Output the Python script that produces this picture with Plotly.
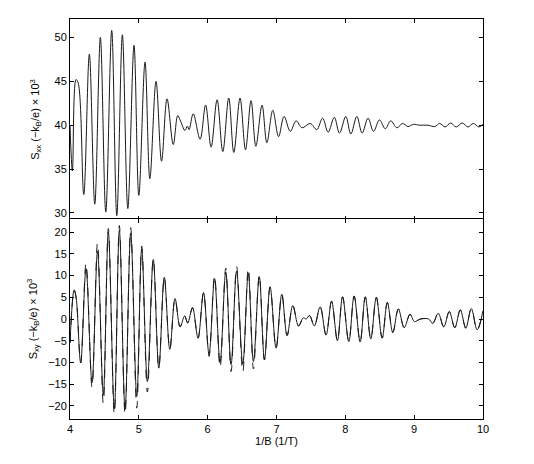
import plotly.graph_objects as go
from plotly.subplots import make_subplots

# ---- data (oscillation extrema) ----
sxx_x = [4.00, 4.035, 4.087, 4.12, 4.20, 4.281, 4.36, 4.441, 4.52, 4.606, 4.68, 4.761, 4.84, 4.930,
         5.00, 5.09, 5.16, 5.25, 5.33, 5.41, 5.50, 5.565, 5.60, 5.67, 5.705, 5.73, 5.79, 5.89, 5.97,
         6.05, 6.137, 6.22, 6.306, 6.38, 6.47, 6.55, 6.63, 6.70, 6.79, 6.86, 6.946, 7.03, 7.11, 7.20,
         7.285, 7.37, 7.49, 7.585, 7.67, 7.75, 7.84, 7.915, 8.007, 8.08, 8.167, 8.244, 8.33, 8.41,
         8.496, 8.58, 8.66, 8.75, 8.83, 8.91, 8.99, 9.08, 9.20, 9.30, 9.37, 9.45, 9.53, 9.61, 9.70,
         9.78, 9.86, 9.94, 10.0]
sxx_y = [40.0, 34.8, 45.2, 44.8, 32.1, 48.1, 31.0, 50.0, 30.1, 50.8, 29.7, 50.3, 30.5, 49.1,
         32.0, 47.2, 33.9, 45.0, 35.9, 43.0, 37.8, 41.1, 40.6, 39.4, 39.9, 39.5, 41.3, 38.4, 42.3,
         37.5, 42.9, 37.0, 43.1, 36.9, 43.1, 37.2, 42.8, 37.6, 42.3, 38.0, 41.7, 38.7, 41.0, 39.3,
         40.5, 39.7, 40.2, 39.5, 40.8, 39.2, 40.9, 39.1, 41.0, 39.0, 41.0, 39.1, 40.8, 39.3,
         40.6, 39.6, 40.5, 39.7, 40.2, 39.85, 40.1, 40.0, 40.0, 39.85, 40.2, 39.8, 40.25, 39.8, 40.25,
         39.8, 40.2, 39.8, 40.1]

sxy_x = [4.00, 4.06, 4.09, 4.155, 4.233, 4.32, 4.40, 4.484, 4.557, 4.644, 4.717, 4.80, 4.882, 4.97,
         5.042, 5.124, 5.21, 5.29, 5.37, 5.45, 5.526, 5.60, 5.665, 5.71, 5.78, 5.86, 5.94, 6.02,
         6.10, 6.18, 6.263, 6.34, 6.42, 6.51, 6.59, 6.665, 6.75, 6.825, 6.907, 6.994, 7.077, 7.154,
         7.237, 7.32, 7.39, 7.43, 7.48, 7.55, 7.634, 7.72, 7.80, 7.885, 7.96, 8.05, 8.128, 8.215,
         8.29, 8.37, 8.45, 8.535, 8.61, 8.69, 8.77, 8.855, 8.94, 9.004, 9.09, 9.21, 9.27, 9.35,
         9.43, 9.51, 9.59, 9.67, 9.75, 9.83, 9.915, 10.0]
sxy_y = [-5.5, 6.7, 4.8, -10.1, 11.6, -14.7, 15.6, -17.4, 20.0, -20.7, 20.4, -20.8, 19.8, -17.8,
         16.2, -14.4, 13.7, -11.3, 9.6, -7.0, 4.7, -1.8, 0.7, -0.9, 2.6, -4.4, 6.1, -8.1,
         9.3, -10.0, 10.8, -10.5, 11.0, -10.4, 10.5, -9.8, 9.7, -9.4, 7.4, -6.7, 5.7, -3.8,
         3.1, -1.6, 0.3, 0.0, 0.8, -1.6, 2.8, -3.7, 4.1, -5.0, 5.1, -5.2, 5.3, -5.3,
         5.1, -4.6, 5.0, -4.4, 3.8, -3.1, 2.3, -2.0, 1.1, -0.6, 0.0, 0.0, -1.0, 1.3,
         -1.8, 1.7, -2.0, 2.1, -2.1, 2.4, -2.5, 1.9]
# dashed companion curve (slightly larger extrema in places)
sxy_dash_y = [-5.5, 6.7, 4.8, -10.1, 12.9, -15.7, 17.6, -19.5, 20.8, -22.0, 21.5, -22.0, 21.0, -20.5,
              16.8, -16.8, 13.9, -11.3, 9.6, -7.0, 4.7, -1.8, 0.7, -0.9, 2.6, -4.4, 6.1, -8.6,
              10.0, -11.2, 11.7, -12.1, 12.1, -12.3, 11.8, -11.5, 10.2, -9.4, 7.4, -6.7, 5.7, -3.8,
              3.1, -1.6, 0.3, 0.0, 0.8, -1.6, 2.8, -3.7, 4.1, -5.0, 5.1, -5.2, 5.3, -5.3,
              5.1, -4.6, 5.0, -4.4, 3.8, -3.1, 2.3, -2.0, 1.1, -0.6, 0.0, 0.0, -1.0, 1.3,
              -1.8, 1.7, -2.0, 2.1, -2.1, 2.4, -2.5, 1.9]

x_ticks = [4, 5, 6, 7, 8, 9, 10]
sxx_ticks = [30, 35, 40, 45, 50]
sxy_ticks = [-20, -15, -10, -5, 0, 5, 10, 15, 20]

FONT = "Liberation Sans, Arial, Helvetica, sans-serif"

fig = make_subplots(rows=2, cols=1, shared_xaxes=True, vertical_spacing=0)

fig.add_trace(go.Scatter(x=sxx_x, y=sxx_y, mode="lines",
                         line=dict(color="#1a1a1a", width=1, shape="spline", smoothing=1.0),
                         showlegend=False, hoverinfo="skip"), row=1, col=1)
fig.add_trace(go.Scatter(x=sxy_x, y=sxy_dash_y, mode="lines",
                         line=dict(color="#1a1a1a", width=1, shape="spline", smoothing=1.0, dash="dash"),
                         showlegend=False, hoverinfo="skip"), row=2, col=1)
fig.add_trace(go.Scatter(x=sxy_x, y=sxy_y, mode="lines",
                         line=dict(color="#1a1a1a", width=1, shape="spline", smoothing=1.0),
                         showlegend=False, hoverinfo="skip"), row=2, col=1)

axis_common = dict(showline=True, linecolor="#000", linewidth=1, mirror="allticks",
                   ticks="inside", ticklen=4, tickcolor="#000", showgrid=False, zeroline=False,
                   tickfont=dict(family=FONT, size=11, color="#000"))

fig.update_xaxes(range=[4, 10], tickvals=x_ticks, **axis_common)
fig.update_xaxes(showticklabels=False, row=1, col=1)
fig.update_xaxes(title=dict(text="1/B (1/T)", font=dict(family=FONT, size=11, color="#000"), standoff=2),
                 row=2, col=1)

fig.update_yaxes(range=[29.2, 52.1], tickvals=sxx_ticks, row=1, col=1, **axis_common,
                 domain=[0.4975, 1.0],
                 title=dict(text="S<sub>xx</sub> (−k<sub>B</sub>/e) × 10<sup>3</sup>",
                            font=dict(family=FONT, size=11, color="#000"), standoff=12))
fig.update_yaxes(range=[-23, 23], tickvals=sxy_ticks, ticktext=[str(t).replace("-", "−") for t in sxy_ticks],
                 row=2, col=1, **axis_common, domain=[0.0, 0.5],
                 title=dict(text="S<sub>xy</sub> (−k<sub>B</sub>/e) × 10<sup>3</sup>",
                            font=dict(family=FONT, size=11, color="#000"), standoff=8))

fig.update_layout(width=526, height=456, margin=dict(l=62, r=51, t=11, b=45),
                  paper_bgcolor="white", plot_bgcolor="white", showlegend=False)

fig.write_html("out.html")
